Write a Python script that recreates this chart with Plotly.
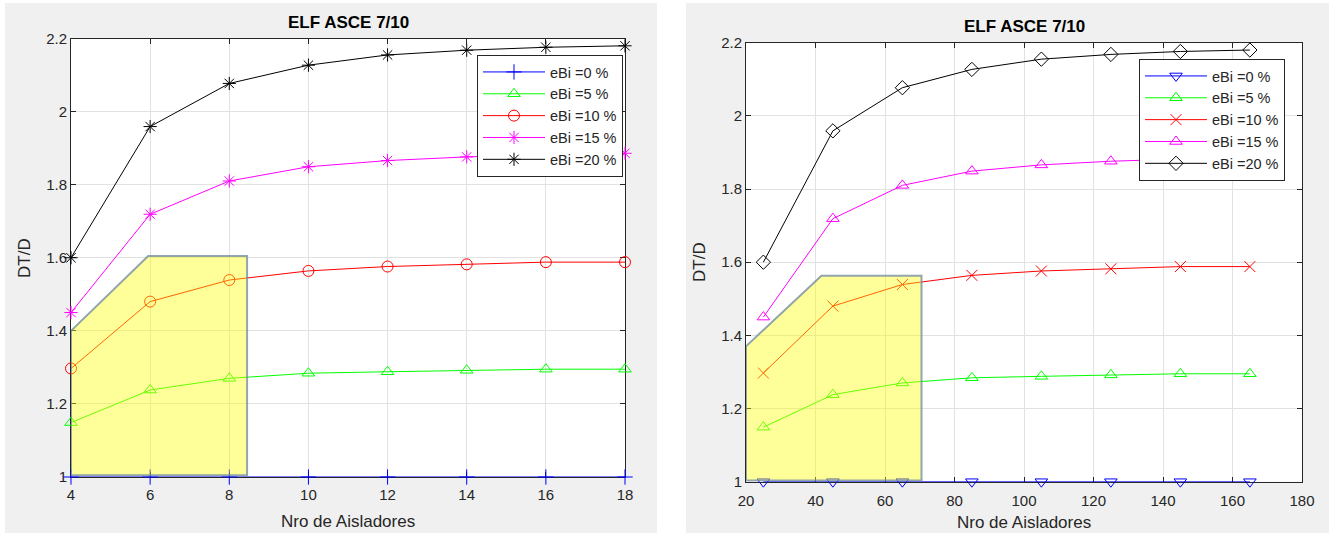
import plotly.graph_objects as go

# Number of isolators for each model
n_left = [4, 6, 8, 10, 12, 14, 16, 18]
n_right = [25, 45, 65, 85, 105, 125, 145, 165]

# DT/D ratio for each bidirectional eccentricity (eBi)
series_names = ["eBi =0 %", "eBi =5 %", "eBi =10 %", "eBi =15 %", "eBi =20 %"]
dt_e0 = [1.000, 1.000, 1.000, 1.000, 1.000, 1.000, 1.000, 1.000]
dt_e5 = [1.149, 1.238, 1.270, 1.284, 1.288, 1.292, 1.295, 1.295]
dt_e10 = [1.297, 1.480, 1.539, 1.564, 1.576, 1.582, 1.588, 1.588]
dt_e15 = [1.450, 1.719, 1.810, 1.849, 1.866, 1.876, 1.882, 1.886]
dt_e20 = [1.600, 1.959, 2.077, 2.127, 2.155, 2.168, 2.176, 2.180]

# Highlighted region (polygon vertices in data units)
hl_left_x = [4, 4, 5.95, 8.45, 8.45]
hl_left_y = [1.005, 1.40, 1.605, 1.605, 1.005]
hl_right_x = [20, 20, 41.7, 70.5, 70.5]
hl_right_y = [1.003, 1.37, 1.563, 1.563, 1.003]

x_ticks_left = [4, 6, 8, 10, 12, 14, 16, 18]
x_ticks_right = [20, 40, 60, 80, 100, 120, 140, 160, 180]
y_ticks = [1, 1.2, 1.4, 1.6, 1.8, 2, 2.2]

W, H = 1334, 533
FONT = "Liberation Sans, Arial, sans-serif"
INK = "#262626"

colors = ["#0000ff", "#00ff00", "#ff0000", "#ff00ff", "#000000"]
symbols_left = ["cross-thin-open", "triangle-up-open", "circle-open", "asterisk-open", "asterisk-open"]
symbols_right = ["triangle-down-open", "triangle-up-open", "x-thin-open", "triangle-up-open", "diamond-open"]
all_series = [dt_e0, dt_e5, dt_e10, dt_e15, dt_e20]

fig = go.Figure()

for i, (name, ys) in enumerate(zip(series_names, all_series)):
    fig.add_trace(go.Scatter(
        x=n_left, y=ys, name=name, mode="lines+markers",
        line=dict(color=colors[i], width=1),
        marker=dict(symbol=symbols_left[i], size=11, color=colors[i],
                    line=dict(color=colors[i], width=1)),
        cliponaxis=False, xaxis="x", yaxis="y", legend="legend",
    ))

for i, (name, ys) in enumerate(zip(series_names, all_series)):
    fig.add_trace(go.Scatter(
        x=n_right, y=ys, name=name, mode="lines+markers",
        line=dict(color=colors[i], width=1),
        marker=dict(symbol=symbols_right[i], size=11, color=colors[i],
                    line=dict(color=colors[i], width=1)),
        cliponaxis=False, xaxis="x2", yaxis="y2", legend="legend2",
    ))


def px_x(p):
    """Page x pixel -> paper fraction."""
    return p / W


def px_y(p):
    """Page y pixel -> paper fraction."""
    return 1 - p / H


def poly_path(xs, ys):
    pts = [f"{x},{y}" for x, y in zip(xs, ys)]
    return "M " + " L ".join(pts) + " Z"


left_dom_x = [px_x(71), px_x(625)]
left_dom_y = [px_y(477), px_y(38.5)]
right_dom_x = [px_x(746), px_x(1302)]
right_dom_y = [px_y(481.7), px_y(42.7)]

shapes = [
    # grey figure panels
    dict(type="rect", xref="paper", yref="paper", x0=px_x(5), x1=px_x(657),
         y0=0, y1=px_y(3), fillcolor="#f0f0f0", line=dict(width=0), layer="below"),
    dict(type="rect", xref="paper", yref="paper", x0=px_x(686), x1=px_x(1329),
         y0=0, y1=px_y(3), fillcolor="#f0f0f0", line=dict(width=0), layer="below"),
    # white axes backgrounds
    dict(type="rect", xref="paper", yref="paper", x0=left_dom_x[0], x1=left_dom_x[1],
         y0=left_dom_y[0], y1=left_dom_y[1], fillcolor="#ffffff", line=dict(width=0), layer="below"),
    dict(type="rect", xref="paper", yref="paper", x0=right_dom_x[0], x1=right_dom_x[1],
         y0=right_dom_y[0], y1=right_dom_y[1], fillcolor="#ffffff", line=dict(width=0), layer="below"),
    # highlighted zones
    dict(type="path", xref="x", yref="y", path=poly_path(hl_left_x, hl_left_y),
         fillcolor="rgba(255,255,0,0.4)", line=dict(color="rgba(110,135,160,0.75)", width=2),
         layer="above"),
    dict(type="path", xref="x2", yref="y2", path=poly_path(hl_right_x, hl_right_y),
         fillcolor="rgba(255,255,0,0.4)", line=dict(color="rgba(110,135,160,0.75)", width=2),
         layer="above"),
]

axis_common = dict(
    showline=True, linecolor=INK, linewidth=1, mirror="ticks",
    ticks="inside", ticklen=5, tickcolor=INK, tickwidth=1,
    showgrid=True, gridcolor="#e2e2e2", gridwidth=1, zeroline=False,
    tickfont=dict(family=FONT, size=15, color=INK), layer="below traces",
)


def label(text, x, y, size=17, color=INK, angle=0):
    return dict(text=text, x=px_x(x), y=px_y(y), xref="paper", yref="paper",
                xanchor="center", yanchor="middle", textangle=angle,
                showarrow=False, font=dict(family=FONT, size=size, color=color))


annotations = [
    label("<b>ELF ASCE 7/10</b>", 348, 23, color="#000000"),
    label("<b>ELF ASCE 7/10</b>", 1024, 27, color="#000000"),
    label("Nro de Aisladores", 348, 521),
    label("Nro de Aisladores", 1024, 522),
    label("DT/D", 24, 258, angle=-90),
    label("DT/D", 699, 262, angle=-90),
]

legend_common = dict(
    bgcolor="#ffffff", bordercolor=INK, borderwidth=1,
    font=dict(family=FONT, size=14.5, color=INK),
    xanchor="right", yanchor="top", tracegroupgap=0, itemwidth=62,
)

fig.update_layout(
    width=W, height=H,
    margin=dict(l=0, r=0, t=0, b=0, autoexpand=False),
    paper_bgcolor="#ffffff", plot_bgcolor="#ffffff",
    showlegend=True,
    xaxis=dict(domain=left_dom_x, range=[4, 18], tickvals=x_ticks_left, anchor="y",
               ticklabelstandoff=4, **axis_common),
    yaxis=dict(domain=left_dom_y, range=[1, 2.2], tickvals=y_ticks, anchor="x", **axis_common),
    xaxis2=dict(domain=right_dom_x, range=[20, 180], tickvals=x_ticks_right, anchor="y2",
                ticklabelstandoff=5, **axis_common),
    yaxis2=dict(domain=right_dom_y, range=[1, 2.2], tickvals=y_ticks, anchor="x2", **axis_common),
    legend=dict(x=px_x(623), y=px_y(55), **legend_common),
    legend2=dict(x=px_x(1285), y=px_y(59), **legend_common),
    shapes=shapes,
    annotations=annotations,
)

fig.write_html("out.html")
